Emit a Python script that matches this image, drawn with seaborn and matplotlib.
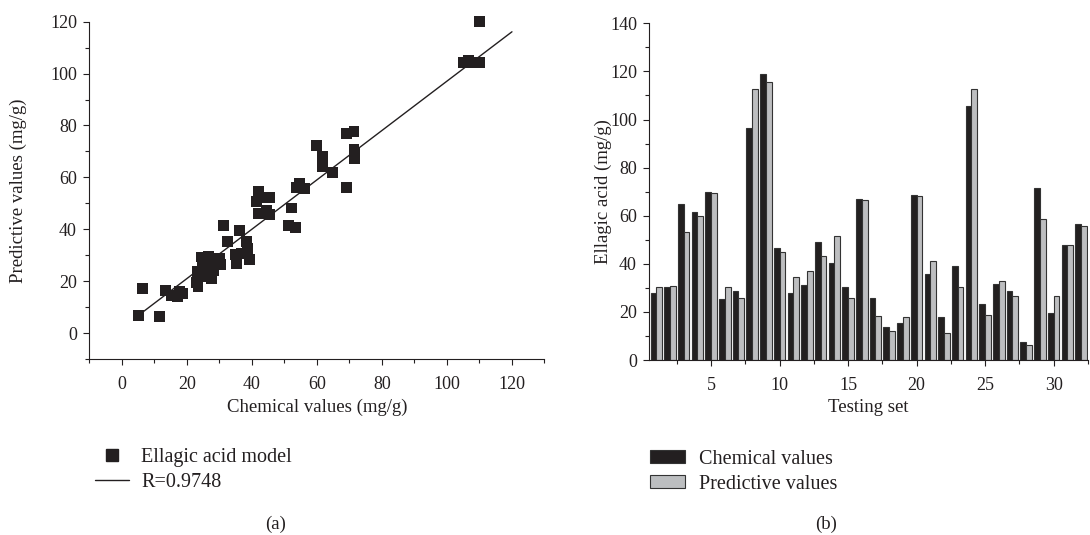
import numpy as np
import pandas as pd
import seaborn as sns
import matplotlib.pyplot as plt
from matplotlib.ticker import MultipleLocator, FixedLocator
from matplotlib.patches import Patch
from matplotlib.lines import Line2D

# (a) scatter: chemical vs predictive values (mg/g)
chem_vals = [5.0, 6.2, 11.6, 13.3, 15.3, 17.0, 17.7, 18.6, 22.9, 23.4, 23.1, 24.5,
             24.7, 25.4, 26.5, 26.8, 27.6, 28.1, 27.2, 30.1, 30.4, 31.1, 32.5, 35.2,
             35.0, 36.3, 36.8, 38.4, 38.6, 39.1, 41.3, 41.9, 41.9, 44.2, 44.4, 45.3,
             45.4, 51.3, 52.1, 53.5, 53.7, 54.5, 56.1, 59.9, 61.6, 61.6, 64.9, 69.0,
             69.0, 71.4, 71.4, 71.6, 71.6, 105.2, 106.6, 108.7, 110.1, 109.9, 106.5,
             25.7, 24.9]
pred_vals = [6.7, 17.1, 6.4, 16.5, 14.5, 14.1, 16.2, 15.4, 19.4, 18.0, 23.9, 29.3,
             27.8, 21.6, 29.6, 26.8, 21.0, 24.2, 24.2, 28.7, 26.4, 41.3, 35.4, 26.8,
             30.2, 39.6, 30.6, 35.4, 32.5, 28.4, 50.8, 54.4, 46.0, 52.2, 47.1, 52.1,
             45.7, 41.5, 48.2, 40.6, 56.1, 57.6, 55.7, 72.3, 67.9, 64.1, 61.9, 76.9,
             56.0, 77.8, 70.9, 69.2, 67.1, 104.3, 105.2, 104.3, 104.3, 120.0, 104.3,
             25.5, 28.0]

# fitted line as drawn in the figure
fit_slope = 0.951
fit_intercept = 2.0
fit_x = [6.3, 120.0]

# (b) testing set bars
test_ids = list(range(1, 33))
chemical = [27.7, 30.2, 65.0, 61.4, 70.0, 25.4, 28.7, 96.4, 118.9, 46.6, 28.0, 31.2,
            49.0, 40.2, 30.4, 67.0, 25.7, 13.6, 15.3, 68.5, 35.9, 18.0, 39.0, 105.5,
            23.2, 31.5, 28.6, 7.4, 71.4, 19.4, 47.7, 56.4]
predictive = [30.2, 30.9, 53.4, 59.8, 69.6, 30.4, 25.8, 112.8, 115.8, 44.9, 34.7, 37.0,
              43.4, 51.5, 25.9, 66.7, 18.4, 12.1, 17.9, 68.2, 41.3, 11.4, 30.2, 112.5,
              18.6, 33.0, 26.6, 6.4, 58.8, 26.5, 47.9, 55.9]

black = '#231f20'
gray = '#bcbec0'

sns.set_style('ticks')
plt.rcParams['font.family'] = ['Liberation Serif', 'DejaVu Serif']
plt.rcParams['axes.edgecolor'] = black
plt.rcParams['xtick.color'] = black
plt.rcParams['ytick.color'] = black
plt.rcParams['text.color'] = black
plt.rcParams['axes.labelcolor'] = black

fs = 13.5
fs_tick = 13
fs_leg = 14.5

fig = plt.figure(figsize=(10.9, 5.35), dpi=100)
ax1 = fig.add_axes([0.0821, 0.329, 0.4174, 0.6304])
ax2 = fig.add_axes([0.5958, 0.3271, 0.4022, 0.6293])

# ---- panel (a)
sc = pd.DataFrame({'chem': chem_vals, 'pred': pred_vals})
sns.scatterplot(data=sc, x='chem', y='pred', marker='s', s=62, color=black,
                edgecolor='none', clip_on=False, zorder=3, ax=ax1)
fx = np.array(fit_x)
sns.lineplot(x=fx, y=fit_intercept + fit_slope * fx, color=black, lw=1.0, ax=ax1)

ax1.set_xlim(-10, 130)
ax1.set_ylim(-10, 120)
ax1.xaxis.set_major_locator(FixedLocator(range(0, 121, 20)))
ax1.xaxis.set_minor_locator(FixedLocator(range(-10, 131, 10)))
ax1.yaxis.set_major_locator(FixedLocator(range(0, 121, 20)))
ax1.yaxis.set_minor_locator(FixedLocator(range(-10, 121, 10)))
ax1.set_xlabel('Chemical values (mg/g)', fontsize=fs)
ax1.set_ylabel('Predictive values (mg/g)', fontsize=fs)
ax1.yaxis.set_label_coords(-0.137, 0.5)
sns.despine(ax=ax1)

h1 = [Line2D([], [], marker='s', ls='none', color=black, markersize=8),
      Line2D([], [], color=black, lw=1.0)]
ax1.legend(h1, ['Ellagic acid model', 'R=0.9748'], loc='upper left',
           bbox_to_anchor=(0.0872, 0.163), bbox_transform=fig.transFigure,
           frameon=False, fontsize=fs_leg, handlelength=1.7, handletextpad=0.6,
           labelspacing=0.3, borderpad=0, borderaxespad=0)

# ---- panel (b)
bars = pd.DataFrame({
    'Testing set': test_ids * 2,
    'value': chemical + predictive,
    'kind': ['Chemical values'] * 32 + ['Predictive values'] * 32,
})
sns.barplot(data=bars, x='Testing set', y='value', hue='kind', native_scale=True,
            palette=[black, gray], width=0.84, edgecolor='#333333', linewidth=0.8,
            legend=False, ax=ax2)

ax2.set_xlim(0.5, 32.5)
ax2.set_ylim(0, 140)
ax2.xaxis.set_major_locator(FixedLocator(range(5, 31, 5)))
ax2.xaxis.set_minor_locator(FixedLocator(np.arange(2.5, 33, 5)))
ax2.yaxis.set_major_locator(MultipleLocator(20))
ax2.yaxis.set_minor_locator(MultipleLocator(10))
ax2.set_xlabel('Testing set', fontsize=fs)
ax2.set_ylabel('Ellagic acid (mg/g)', fontsize=fs)
ax2.yaxis.set_label_coords(-0.0853, 0.5)
sns.despine(ax=ax2)

h2 = [Patch(facecolor=black, edgecolor='#333333', lw=0.8),
      Patch(facecolor=gray, edgecolor='#333333', lw=0.8)]
ax2.legend(h2, ['Chemical values', 'Predictive values'], loc='upper left',
           bbox_to_anchor=(0.5963, 0.159), bbox_transform=fig.transFigure,
           frameon=False, fontsize=fs_leg, handlelength=1.75, handleheight=0.62,
           handletextpad=0.7, labelspacing=0.3, borderpad=0, borderaxespad=0)

for ax in (ax1, ax2):
    ax.tick_params(which='major', direction='out', length=4, width=0.8,
                   labelsize=fs_tick)
    ax.tick_params(which='minor', direction='out', length=3, width=0.8)
    ax.tick_params(axis='x', which='major', pad=8)
    ax.tick_params(axis='y', which='major', pad=5)
    for sp in ax.spines.values():
        sp.set_linewidth(0.8)

fig.text(0.253, 0.019, '(a)', ha='center', va='center', fontsize=fs)
fig.text(0.758, 0.019, '(b)', ha='center', va='center', fontsize=fs)

fig.savefig('out.png', dpi=100)
